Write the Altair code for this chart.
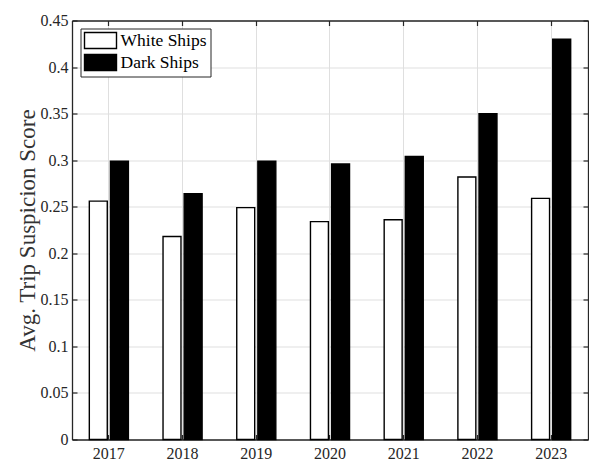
import altair as alt
import pandas as pd

years = ["2017", "2018", "2019", "2020", "2021", "2022", "2023"]
white_ships = [0.256, 0.218, 0.249, 0.234, 0.236, 0.282, 0.259]
dark_ships = [0.299, 0.264, 0.299, 0.296, 0.304, 0.350, 0.430]
series = ["White Ships", "Dark Ships"]
y_ticks = [0, 0.05, 0.1, 0.15, 0.2, 0.25, 0.3, 0.35, 0.4, 0.45]

df = pd.DataFrame({
    "year": years * 2,
    "series": [series[0]] * len(years) + [series[1]] * len(years),
    "value": white_ships + dark_ships,
})

W, H = 516, 419
FONT = "Liberation Serif"
AX = "#262626"
GRID = "#dfdfdf"
TXT = dict(labelFont=FONT, labelFontSize=16, labelColor=AX,
           titleFont=FONT, titleFontSize=23, titleColor="#333333", titleFontWeight="normal")


def xs():
    return alt.Scale(type="band", domain=years, paddingInner=0, paddingOuter=0)


def ys():
    return alt.Scale(domain=[0, 0.45], nice=False, zero=True)


base = alt.Chart(df)

bars = base.mark_bar(stroke="black", strokeWidth=1.4).encode(
    x=alt.X("year:N", scale=xs(), title=None,
            axis=alt.Axis(orient="bottom", labelAngle=0, ticks=False, grid=True,
                          bandPosition=0.5, gridColor=GRID, domainColor=AX,
                          domainWidth=1.3, labelPadding=6, **TXT)),
    xOffset=alt.XOffset("series:N", scale=alt.Scale(domain=series, paddingInner=0.15, paddingOuter=0.82)),
    y=alt.Y("value:Q", scale=ys(), title="Avg. Trip Suspicion Score",
            axis=alt.Axis(orient="left", values=y_ticks, format=".2~f", ticks=False,
                          grid=True, gridColor=GRID, domainColor=AX, domainWidth=1.3,
                          labelPadding=4, titlePadding=1, **TXT)),
    color=alt.Color("series:N", scale=alt.Scale(domain=series, range=["white", "black"]),
                    legend=alt.Legend(orient="none", legendX=8.5, legendY=8, title=None,
                                      fillColor="white", strokeColor=AX,
                                      padding=3, symbolType="M-1,-1H3V1H-1Z",
                                      symbolSize=256, symbolStrokeColor="black",
                                      symbolStrokeWidth=1.4, labelFont=FONT,
                                      labelFontSize=17.5, labelColor="black",
                                      labelOffset=19, rowPadding=0)),
)

# inward ticks at bottom and left edges
ticks_a = base.mark_point(opacity=0).encode(
    x=alt.X("year:N", scale=xs(), title=None,
            axis=alt.Axis(orient="top", offset=-H, labels=False, grid=False, domain=False,
                          bandPosition=0.5, tickSize=5, tickColor=AX, tickWidth=1.2)),
    y=alt.Y("value:Q", scale=ys(), title=None,
            axis=alt.Axis(orient="right", offset=-W, values=y_ticks, labels=False, grid=False,
                          domain=False, tickSize=5, tickColor=AX, tickWidth=1.2)),
)

# inward ticks at top and right edges plus box lines
ticks_b = base.mark_point(opacity=0).encode(
    x=alt.X("year:N", scale=xs(), title=None,
            axis=alt.Axis(orient="bottom", offset=-H, labels=False, grid=False, domain=True,
                          domainColor=AX, domainWidth=1.3,
                          bandPosition=0.5, tickSize=5, tickColor=AX, tickWidth=1.2)),
    y=alt.Y("value:Q", scale=ys(), title=None,
            axis=alt.Axis(orient="left", offset=-W, values=y_ticks, labels=False, grid=False,
                          domain=True, domainColor=AX, domainWidth=1.3,
                          tickSize=5, tickColor=AX, tickWidth=1.2)),
)

chart = alt.layer(bars, ticks_a, ticks_b).resolve_scale(
    x="independent", y="independent"
).properties(
    width=W, height=H,
    padding={"left": 8, "top": 4.5, "right": 0, "bottom": 0},
).configure_view(stroke=None)

chart.save("out.html", embed_options={"renderer": "svg", "actions": False})
